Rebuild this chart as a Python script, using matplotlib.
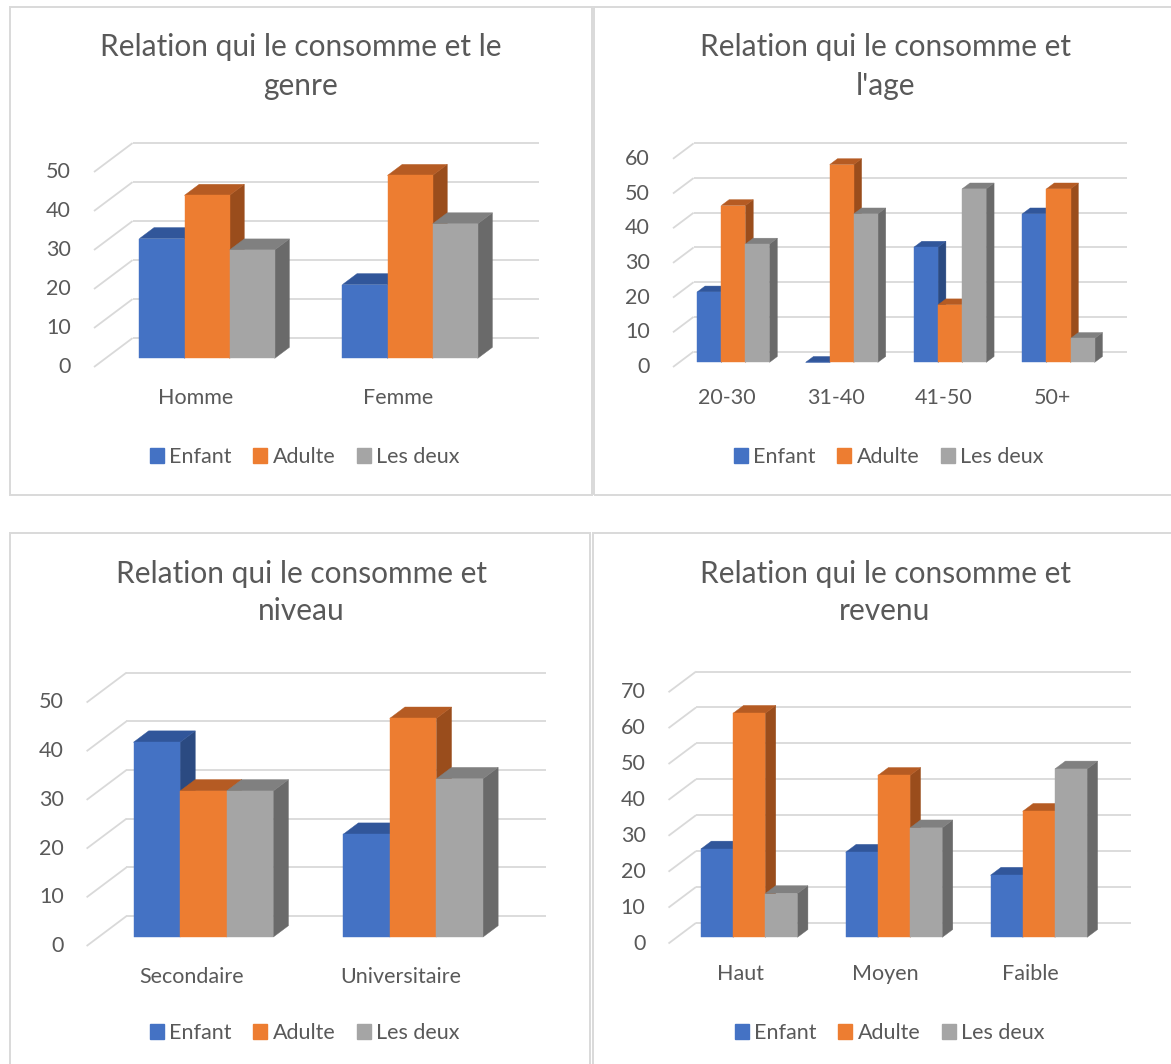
import matplotlib.pyplot as plt
from matplotlib.patches import Polygon, Rectangle, Patch

plt.rcParams['font.family'] = ['Lato', 'DejaVu Sans']

# series shared by the four charts
series = ["Enfant", "Adulte", "Les deux"]
front_colors = ["#4472C4", "#ED7D31", "#A5A5A5"]
top_colors = ["#31569A", "#B55B23", "#808080"]
side_colors = ["#2B4A81", "#9A4D1C", "#6A6A6A"]

genre_labels = ["Homme", "Femme"]
genre_enfant = [30.7, 18.9]
genre_adulte = [41.8, 46.9]
genre_deux = [27.8, 34.5]

age_labels = ["20-30", "31-40", "41-50", "50+"]
age_enfant = [20.3, 0, 33.2, 42.8]
age_adulte = [45.2, 57.0, 16.6, 50.0]
age_deux = [34.1, 42.8, 50.0, 6.9]

niveau_labels = ["Secondaire", "Universitaire"]
niveau_enfant = [40.0, 21.1]
niveau_adulte = [30.0, 44.9]
niveau_deux = [30.0, 32.5]

revenu_labels = ["Haut", "Moyen", "Faible"]
revenu_enfant = [24.6, 23.7, 17.3]
revenu_adulte = [62.4, 45.1, 35.1]
revenu_deux = [12.2, 30.5, 46.9]

W, H = 1171, 1064
TXT = "#595959"
GRID = "#D9D9D9"

fig = plt.figure(figsize=(W / 100, H / 100), dpi=100)


def fx(px):
    return px / W


def fy(py):
    return 1 - py / H


def draw_chart(labels, values, ymax, x_left, x_right, y0, ppu,
               title, title_x, title_y, legend_y, legend_x):
    n = len(labels)
    cat_px = (x_right - x_left) / n
    ax = fig.add_axes([fx(x_left), fy(y0), (x_right - x_left) / W, ymax * ppu / H])
    ax.set_xlim(0, n)
    ax.set_ylim(0, ymax)
    ax.axis("off")

    # depth of the floor, in data units
    ddx = 0.19
    ddy = 0.75 * 0.19 * cat_px / ppu

    # back wall and side wall gridlines
    for v in range(0, ymax + 1, 10):
        ax.plot([ddx, n + ddx], [v + ddy, v + ddy], color=GRID, lw=1.3,
                clip_on=False, zorder=1, solid_capstyle="butt")
        ax.plot([0, ddx], [v, v + ddy], color=GRID, lw=1.3,
                clip_on=False, zorder=1, solid_capstyle="butt")
        ax.text(-23 / cat_px, v, str(v), ha="right", va="center",
                fontsize=15.5, color=TXT)

    # bars: 150% gap width, bars sit between 30% and 68% of the floor depth
    bw = 1 / 4.5
    f0, f1 = 0.30, 0.68
    z = 2
    for i in range(n):
        for k in range(len(values)):
            h = values[k][i]
            x = i + 0.75 * bw + k * bw
            ax0, ay0 = x + f0 * ddx, f0 * ddy
            bx, by = (f1 - f0) * ddx, (f1 - f0) * ddy
            front = Rectangle((ax0, ay0), bw, h, fc=front_colors[k],
                              ec=front_colors[k], lw=0.3)
            top = Polygon([(ax0, ay0 + h), (ax0 + bw, ay0 + h),
                           (ax0 + bw + bx, ay0 + h + by), (ax0 + bx, ay0 + h + by)],
                          closed=True, fc=top_colors[k], ec=top_colors[k], lw=0.3)
            side = Polygon([(ax0 + bw, ay0), (ax0 + bw + bx, ay0 + by),
                            (ax0 + bw + bx, ay0 + h + by), (ax0 + bw, ay0 + h)],
                           closed=True, fc=side_colors[k], ec=side_colors[k], lw=0.3)
            for p in (side, top, front):
                p.set_clip_on(False)
                p.set_zorder(z)
                ax.add_patch(p)
            z += 1
        ax.text(i + 0.5, -31 / ppu, labels[i], ha="center", va="center",
                fontsize=15.5, color=TXT)

    for line, ty in zip(title, title_y):
        fig.text(fx(title_x), fy(ty), line, ha="center", va="center",
                 fontsize=21.5, color=TXT)

    handles = [Patch(fc=c, ec=c) for c in front_colors]
    fig.legend(handles, series, loc="center", ncol=3, frameon=False,
               bbox_to_anchor=(fx(legend_x), fy(legend_y)),
               fontsize=15.5, labelcolor=TXT, handlelength=0.65,
               handleheight=0.65, handletextpad=0.25, columnspacing=1.0)


# panel frames
for x0, y0, x1, y1 in [(10, 7, 592, 495), (594, 7, 1180, 495),
                       (10, 533, 590, 1075), (593, 533, 1180, 1075)]:
    fig.add_artist(Rectangle((fx(x0), fy(y1)), (x1 - x0) / W, (y1 - y0) / H,
                             transform=fig.transFigure, fill=False,
                             ec=GRID, lw=1.4))

draw_chart(genre_labels, [genre_enfant, genre_adulte, genre_deux], 50,
           94, 500, 367, 3.9,
           ["Relation qui le consomme et le", "genre"], 301, [47, 86], 457, 305)
draw_chart(age_labels, [age_enfant, age_adulte, age_deux], 60,
           673, 1106.5, 367, 3.47,
           ["Relation qui le consomme et", "l'age"], 885, [47, 86], 457, 889)
draw_chart(niveau_labels, [niveau_enfant, niveau_adulte, niveau_deux], 50,
           86.6, 506, 946, 4.87,
           ["Relation qui le consomme et", "niveau"], 301, [574, 611], 1033, 305)
draw_chart(revenu_labels, [revenu_enfant, revenu_adulte, revenu_deux], 70,
           668.5, 1103, 943.5, 3.59,
           ["Relation qui le consomme et", "revenu"], 885, [574, 611], 1033, 890)

fig.savefig("out.png", dpi=100)
